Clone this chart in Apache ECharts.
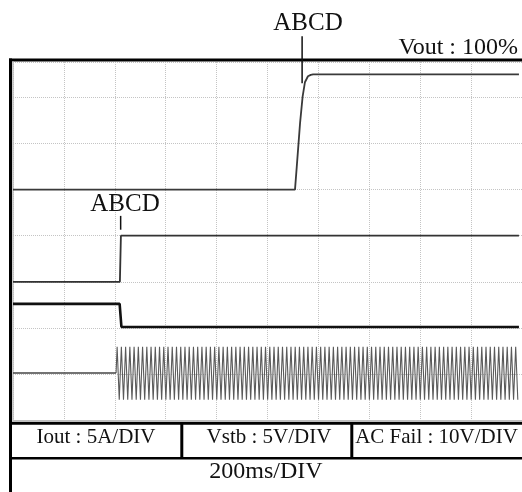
<!DOCTYPE html>
<html>
<head>
<meta charset="utf-8">
<script src="https://cdn.jsdelivr.net/npm/echarts@6/dist/echarts.min.js"></script>
<style>
  html, body { margin: 0; padding: 0; background: #ffffff; }
  #chart { width: 522px; height: 492px; }
</style>
</head>
<body>
<div id="chart"></div>
<script>
// Horizontal scale: 200 ms per division, 10 divisions on screen.
const timeDivMs = 200;
const timeSpanMs = 2000;
// Vertical scale counted in screen divisions (bottom grid line = 0).
const screenDivs = 7.77;

// Channel traces, [time ms, divisions]
const voutTrace = [
  [0, 5.0], [1108, 5.0], [1115, 5.5], [1128, 6.45], [1138, 7.02],
  [1147, 7.33], [1159, 7.46], [1170, 7.49], [1179, 7.5], [1988, 7.5]
];
const ioutTrace = [[0, 3.0], [420, 3.0], [424, 4.0], [1988, 4.0]];
const vstbTrace = [[0, 2.52], [419, 2.52], [426, 2.02], [1988, 2.02]];
const acFailIdle = [[0, 1.02], [405, 1.02]];

// AC Fail after switch-on: crest / trough levels of each half cycle
const acFailStartMs = 405;
const acFailHalfCycleMs = 8.33;
const acFailSwing = [
  1.59,0.44,1.59,0.44,1.59,0.44,1.59,0.44,1.59,0.44,1.59,0.44,1.59,0.44,1.59,0.44,1.59,0.44,1.59,0.44,
  1.59,0.44,1.59,0.44,1.59,0.44,1.59,0.44,1.59,0.44,1.59,0.44,1.59,0.44,1.59,0.44,1.59,0.44,1.59,0.44,
  1.59,0.44,1.59,0.44,1.59,0.44,1.59,0.44,1.59,0.44,1.59,0.44,1.59,0.44,1.59,0.44,1.59,0.44,1.59,0.44,
  1.59,0.44,1.59,0.44,1.59,0.44,1.59,0.44,1.59,0.44,1.59,0.44,1.59,0.44,1.59,0.44,1.59,0.44,1.59,0.44,
  1.59,0.44,1.59,0.44,1.59,0.44,1.59,0.44,1.59,0.44,1.59,0.44,1.59,0.44,1.59,0.44,1.59,0.44,1.59,0.44,
  1.59,0.44,1.59,0.44,1.59,0.44,1.59,0.44,1.59,0.44,1.59,0.44,1.59,0.44,1.59,0.44,1.59,0.44,1.59,0.44,
  1.59,0.44,1.59,0.44,1.59,0.44,1.59,0.44,1.59,0.44,1.59,0.44,1.59,0.44,1.59,0.44,1.59,0.44,1.59,0.44,
  1.59,0.44,1.59,0.44,1.59,0.44,1.59,0.44,1.59,0.44,1.59,0.44,1.59,0.44,1.59,0.44,1.59,0.44,1.59,0.44,
  1.59,0.44,1.59,0.44,1.59,0.44,1.59,0.44,1.59,0.44,1.59,0.44,1.59,0.44,1.59,0.44,1.59,0.44,1.59,0.44,
  1.59,0.44,1.59,0.44,1.59,0.44,1.59,0.44,1.59,0.44
];

// Event markers: time, marker top / bottom, label position
const markerLabels = ['ABCD', 'ABCD'];
const markerTimesMs = [1136, 423];
const markerTops = [8.33, 4.43];
const markerBottoms = [7.31, 4.13];
const markerLabelTimesMs = [1159, 440];
const markerLabelLevels = [8.6, 4.67];

// Scale captions
const cornerCaption = 'Vout : 100%';
const channelCaptions = ['Iout : 5A/DIV', 'Vstb : 5V/DIV', 'AC Fail : 10V/DIV'];
const timebaseCaption = '200ms/DIV';

const acFailRunning = [[acFailStartMs, acFailIdle[acFailIdle.length - 1][1]]].concat(
  acFailSwing.map((v, i) => [acFailStartMs + (i + 0.5) * acFailHalfCycleMs, v])
);

const FONT = '"Liberation Serif", "DejaVu Serif", serif';
const gridStyle = { show: true, lineStyle: { color: '#c4c4c4', type: 'dotted', width: 1 } };

function traceSeries(data, color, width) {
  return {
    type: 'line',
    data: data,
    symbol: 'none',
    silent: true,
    animation: false,
    clip: true,
    lineStyle: { color: color, width: width }
  };
}

const chart = echarts.init(document.getElementById('chart'), null, { renderer: 'canvas' });

chart.setOption({
  backgroundColor: '#ffffff',
  animation: false,
  grid: { left: 13, right: 0, top: 62, bottom: 72 },
  xAxis: {
    type: 'value',
    min: 0,
    max: timeSpanMs,
    interval: timeDivMs,
    axisLine: { show: true, onZero: false, lineStyle: { color: '#bdbdbd', width: 1 } },
    axisTick: { show: false },
    axisLabel: { show: false },
    splitLine: gridStyle
  },
  yAxis: {
    type: 'value',
    min: 0,
    max: screenDivs,
    interval: 1,
    axisLine: { show: true, lineStyle: { color: '#bdbdbd', width: 1.5 } },
    axisTick: { show: false },
    axisLabel: { show: false },
    splitLine: gridStyle
  },
  series: [
    traceSeries(acFailRunning, '#5a5a5a', 1.1),
    traceSeries(acFailIdle, '#444444', 1.7),
    traceSeries(vstbTrace, '#111111', 2.6),
    traceSeries(ioutTrace, '#333333', 1.8),
    traceSeries(voutTrace, '#3a3a3a', 1.8)
  ]
});

// Frame, caption table and event markers
const graphics = [];
const frame = { stroke: '#000000', lineWidth: 3 };
graphics.push({ type: 'line', shape: { x1: 10.5, y1: 58.5, x2: 10.5, y2: 492 }, style: frame });
graphics.push({ type: 'line', shape: { x1: 9, y1: 60, x2: 522, y2: 60 }, style: frame });
graphics.push({ type: 'line', shape: { x1: 9, y1: 423.3, x2: 522, y2: 423.3 }, style: frame });
graphics.push({ type: 'line', shape: { x1: 9, y1: 458.3, x2: 522, y2: 458.3 }, style: { stroke: '#000', lineWidth: 2.5 } });
graphics.push({ type: 'line', shape: { x1: 181.8, y1: 423, x2: 181.8, y2: 458.3 }, style: frame });
graphics.push({ type: 'line', shape: { x1: 351.8, y1: 423, x2: 351.8, y2: 458.3 }, style: frame });

const captionCentersX = [96, 269, 436.5];
channelCaptions.forEach((t, i) => {
  graphics.push({
    type: 'text', x: captionCentersX[i], y: 437.5,
    style: { text: t, fill: '#111', font: '21px ' + FONT, textAlign: 'center', textVerticalAlign: 'middle' }
  });
});
graphics.push({
  type: 'text', x: 266, y: 472,
  style: { text: timebaseCaption, fill: '#111', font: '24px ' + FONT, textAlign: 'center', textVerticalAlign: 'middle' }
});
graphics.push({
  type: 'text', x: 518, y: 47.5,
  style: { text: cornerCaption, fill: '#111', font: '24px ' + FONT, textAlign: 'right', textVerticalAlign: 'middle' }
});

markerLabels.forEach((label, i) => {
  const top = chart.convertToPixel({ gridIndex: 0 }, [markerTimesMs[i], markerTops[i]]);
  const bottom = chart.convertToPixel({ gridIndex: 0 }, [markerTimesMs[i], markerBottoms[i]]);
  const at = chart.convertToPixel({ gridIndex: 0 }, [markerLabelTimesMs[i], markerLabelLevels[i]]);
  graphics.push({
    type: 'line',
    shape: { x1: top[0], y1: top[1], x2: bottom[0], y2: bottom[1] },
    style: { stroke: '#111', lineWidth: 1.5 }
  });
  graphics.push({
    type: 'text', x: at[0], y: at[1],
    style: { text: label, fill: '#111', font: '25px ' + FONT, textAlign: 'center', textVerticalAlign: 'middle' }
  });
});

chart.setOption({ graphic: graphics });
</script>
</body>
</html>
